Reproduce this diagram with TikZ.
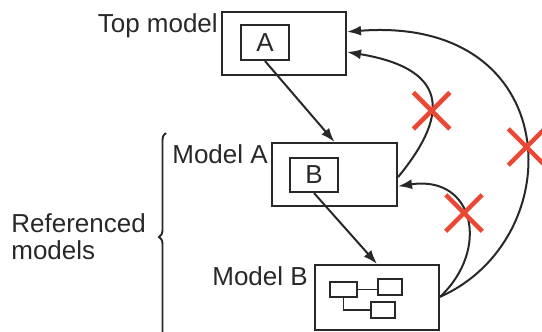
\documentclass[tikz,border=0pt]{standalone}
\usepackage{fontspec}
\setmainfont{Liberation Sans}
\usepackage{xcolor}
\usepackage{tikz}
\usetikzlibrary{arrows.meta, positioning, calc, shapes.misc, decorations.pathreplacing}
\definecolor{ink}{RGB}{40,40,40}
\definecolor{crossred}{RGB}{234,72,52}
\tikzstyle{model} = [rectangle, draw=ink, line width=2.1pt, inner sep=0pt]
\tikzstyle{block} = [rectangle, draw=ink, line width=2.1pt, inner sep=0pt, text=ink, font=\fontsize{26}{26}\selectfont]
\tikzstyle{sub} = [rectangle, draw=ink, line width=1.9pt, inner sep=0pt]
\tikzstyle{lbl} = [inner sep=3pt, text=ink, font=\fontsize{26}{27}\selectfont]
\tikzstyle{conn} = [draw=ink, line width=1.9pt]
\tikzstyle{arrow} = [draw=ink, line width=2pt, -{Latex[length=14pt,width=10pt]}]
\tikzstyle{nogo} = [cross out, draw=crossred, line width=4.5pt, minimum size=32pt, inner sep=0pt]

\begin{document}
\begin{tikzpicture}[x=1pt, y=-1pt]
\useasboundingbox (0,0) rectangle (542,332);

% Top model
\node (top) [model, minimum width=124pt, minimum height=63pt] at (284,43.5) {};
\node (blkA) [block, minimum width=48pt, minimum height=35pt] at (265,42.5) {A};
\node (toplbl) [lbl, anchor=north east] at (top.north west) {Top model};

% Model A
\node (modA) [model, minimum width=125pt, minimum height=63pt] at (334.5,174.5) {};
\node (blkB) [block, minimum width=48pt, minimum height=34pt] at (314,175) {B};
\node (modAlbl) [lbl, anchor=north east] at (modA.north west) {Model A};

% Model B
\node (modB) [model, minimum width=124pt, minimum height=65pt] at (377,297.5) {};
\node (modBlbl) [lbl, anchor=north east, xshift=-3pt] at (modB.north west) {Model B};
\node (b1) [sub, minimum width=27pt, minimum height=15pt] at (343.5,289.5) {};
\node (b2) [sub, minimum width=24pt, minimum height=16pt] at (390,287) {};
\node (b3) [sub, minimum width=24pt, minimum height=16pt] at (383,310) {};
\draw [conn] (b1.east) -- (b1.east -| b2.west);
\draw [conn] (b1.south) |- (b3.west);

% Referenced models
\coordinate (brtop) at (166,133);
\coordinate (brbot) at (166,341);
\coordinate (brmid) at (159,237);
\draw [conn, decorate, decoration={brace, amplitude=7pt}] (brbot) -- (brtop);
\node (refd) [lbl, left=10pt of brmid, align=left] {Referenced\\models};

% Connections
\draw [arrow] (blkA.south) -- (modA.north);
\draw [arrow] (blkB.south) -- (modB.north);

\coordinate (topIn1) at ($(top.north east)!0.32!(top.south east)$);
\coordinate (topIn2) at ($(top.north east)!0.63!(top.south east)$);
\coordinate (aOut) at ($(modA.north east)!0.54!(modA.south east)$);
\coordinate (aIn) at ($(modA.north east)!0.68!(modA.south east)$);
\coordinate (bOut) at ($(modB.north east)!0.49!(modB.south east)$);

\draw [arrow] (aOut) .. controls (445,120) and (455,70) .. (topIn2) node [nogo, pos=0.42] {};
\draw [arrow] (bOut) .. controls (572,238) and (565,15) .. (topIn1) node [nogo, pos=0.47] {};
\draw [arrow] (bOut) .. controls (490,250) and (475,175) .. (aIn) node [nogo, pos=0.55] {};

\end{tikzpicture}
\end{document}
